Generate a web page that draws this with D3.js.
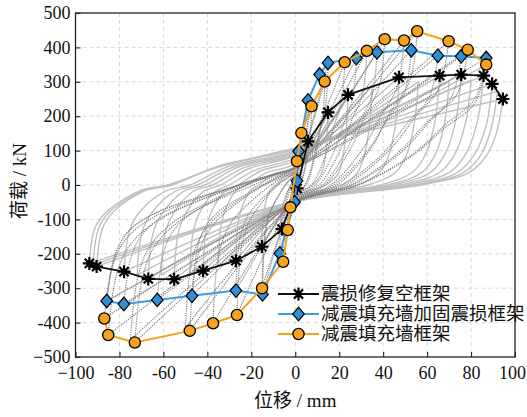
<!DOCTYPE html>
<html>
<head>
<meta charset="utf-8">
<script src="https://cdn.jsdelivr.net/npm/d3@7"></script>
<style>
  body { margin: 0; background: #fff; }
  svg { display: block; }
</style>
</head>
<body>
<svg id="chart" width="527" height="417"></svg>
<script>
// ---- axis ticks ----
const xTicks = [-100, -80, -60, -40, -20, 0, 20, 40, 60, 80, 100];
const xTickLabels = ["\u2212100", "-80", "-60", "\u221240", "-20", "0", "20", "40", "60", "80", "100"];
const yTicks = [500, 400, 300, 200, 100, 0, -100, -200, -300, -400, -500];
const yTickLabels = ["500", "400", "300", "200", "100", "0", "-100", "-200", "-300", "-400", "\u2212500"];
const xTitle = "位移 / mm";
const yTitle = "荷载 / kN";

// ---- skeleton curves [displacement mm, load kN] ----
const seriesNames = ["震损修复空框架", "减震填充墙加固震损框架", "减震填充墙框架"];
const repairedFrame = [[-93.7,-228],[-90.4,-237],[-77.9,-252],[-66.9,-273],[-55.1,-274],[-41.9,-249],[-27,-220],[-15.2,-179],[-6,-128],[0.8,-10],[5.8,127],[14.9,211],[24,262],[47.2,313],[65.7,318],[75.5,321],[85.7,318],[89.6,294],[94.5,250]];
const strengthenedFrame = [[-85.8,-337],[-78,-346],[-62.8,-334],[-47,-322],[-27,-307],[-14.9,-318],[-7,-199],[-0.3,-50],[0.8,12],[1.5,98],[5.8,246],[11.1,321],[14.9,355],[27.8,369],[37.2,386],[52.8,392],[64.9,376],[75.5,374],[86.9,369]];
const infilledFrame = [[-86.9,-388],[-85.1,-436],[-73,-458],[-48,-424],[-37.4,-402],[-26.5,-378],[-15.1,-300],[-5.5,-223],[-3.4,-131],[-2.2,-65],[0.8,69],[2.8,151],[7.4,229],[13.4,301],[22.5,357],[32.6,390],[40.7,424],[49.5,420],[55.5,447],[69.8,418],[78.5,393],[86.9,350]];

// ---- hysteresis loops: each loop = [branch from + peak to - peak, branch from - peak to + peak] ----
const loopsRepaired = [
  [[[5.8,127],[5.2,75],[4,35],[3,15],[2,0],[0,-25],[-6,-128]], [[-6,-128],[-5.3,-75],[-4.2,-35],[-3,-12],[-2,0],[0,25],[5.8,127]]],
  [[[14.9,211],[14.3,127],[13.3,65],[11.5,28],[8,0],[0,-30],[-15.2,-179]], [[-15.2,-179],[-14.6,-98],[-13.6,-55],[-11.5,-15],[-9,0],[-5,22],[0,40],[14.9,211]]],
  [[[24,262],[23.2,157],[21.6,80],[19.5,32],[14,0],[0,-35],[-27,-220]], [[-27,-220],[-26.2,-117],[-24.5,-70],[-20.5,-16],[-16.5,0],[-10,32],[0,55],[24,262]]],
  [[[35,290],[33.8,175],[31.5,88],[28,33],[21,0],[0,-38],[-35,-238]], [[-35,-238],[-34,-125],[-32,-75],[-27,-17],[-22,0],[-13,36],[0,62],[35,290]]],
  [[[47.2,313],[45.8,188],[43,95],[38.5,38],[28,0],[0,-40],[-41.9,-249]], [[-41.9,-249],[-40.6,-132],[-38.3,-80],[-32,-18],[-26,0],[-16,40],[0,72],[47.2,313]]],
  [[[56,300],[54.2,180],[50.8,90],[45.5,36],[33,0],[0,-42],[-48,-262]], [[-48,-262],[-46.5,-138],[-43.8,-84],[-36.5,-19],[-30,0],[-18,44],[0,78],[56,300]]],
  [[[65.7,318],[63.7,190],[59.8,96],[53.5,38],[39,0],[0,-44],[-55.1,-274]], [[-55.1,-274],[-53.4,-145],[-50.3,-88],[-42,-20],[-34,0],[-21,48],[0,85],[65.7,318]]],
  [[[70,300],[68,182],[64,92],[57.5,36],[42,0],[0,-45],[-61,-262]], [[-61,-262],[-59.2,-140],[-55.6,-84],[-46.5,-19],[-37.5,0],[-23.5,50],[0,88],[70,300]]],
  [[[75.5,321],[73.2,193],[68.7,97],[62,39],[45,0],[0,-46],[-66.9,-273]], [[-66.9,-273],[-64.9,-145],[-61,-87],[-51,-19],[-41,0],[-26,52],[0,92],[75.5,321]]],
  [[[80,305],[77.6,184],[72.8,92],[65.8,37],[48,0],[0,-47],[-72,-262]], [[-72,-262],[-69.8,-139],[-65.6,-83],[-54.5,-18],[-44.5,0],[-28,53],[0,95],[80,305]]],
  [[[85.7,318],[83.1,191],[78,95],[70.5,38],[51,0],[0,-48],[-77.9,-252]], [[-77.9,-252],[-75.5,-134],[-71,-80],[-59,-18],[-48,0],[-30,55],[0,98],[85.7,318]]],
  [[[89.6,294],[87,176],[81.5,88],[73.5,35],[54,0],[0,-48],[-90.4,-237]], [[-90.4,-237],[-87.7,-126],[-82.5,-76],[-68.5,-17],[-56,0],[-35,55],[0,103],[89.6,294]]],
  [[[92,272],[89.2,165],[84.3,86],[76.3,35],[55.5,0],[0,-48],[-92,-232]], [[-92,-232],[-89.4,-124],[-83.8,-74],[-69.3,-16],[-57,0],[-35.5,52],[0,105],[92,272]]],
  [[[94.5,250],[91.5,150],[87,85],[79,36],[57,0],[0,-48],[-93.7,-228]], [[-93.7,-228],[-91,-122],[-85,-73],[-70,-15],[-58,0],[-36,50],[0,108],[94.5,250]]]
];
const loopsInfilled = [
  [[[2.8,151],[2.6,100],[2.2,65],[1.7,35],[0.9,0],[0,-15],[-3.4,-131]], [[-3.4,-131],[-3.2,-85],[-2.7,-55],[-2,-30],[-1,0],[0,15],[2.8,151]]],
  [[[7.4,229],[7,156],[5.8,108],[4.6,57],[2.4,0],[0,-25],[-5.5,-223]], [[-5.5,-223],[-5.3,-140],[-4.9,-92],[-4,-52],[-1.8,0],[0,25],[7.4,229]]],
  [[[13.4,301],[12.6,205],[10.5,141],[8.3,75],[4.4,0],[0,-30],[-15.1,-300]], [[-15.1,-300],[-14.5,-186],[-13.4,-123],[-11,-70],[-4.5,0],[-2,18],[0,30],[13.4,301]]],
  [[[22.5,357],[21.1,243],[17.5,168],[14,89],[7.4,0],[0,-35],[-26.5,-378]], [[-26.5,-378],[-25.4,-234],[-23.6,-155],[-19.6,-90],[-8,0],[-3.5,22],[0,35],[22.5,357]]],
  [[[32.6,390],[30.6,265],[25.4,183],[20.2,98],[10.8,0],[0,-40],[-37.4,-402]], [[-37.4,-402],[-35.9,-249],[-33.3,-165],[-27.7,-96],[-11,0],[-5,25],[0,40],[32.6,390]]],
  [[[40.7,424],[38.3,288],[31.7,199],[25.2,106],[13.4,0],[0,-45],[-48,-424]], [[-48,-424],[-46,-263],[-42.7,-174],[-35.5,-102],[-14.4,0],[-6,28],[0,45],[40.7,424]]],
  [[[49.5,420],[46.5,286],[38.6,197],[30.7,105],[16.3,0],[0,-48],[-50,-415]], [[-50,-415],[-48,-257],[-44.5,-170],[-37,-100],[-15,0],[-6.5,28],[0,48],[49.5,420]]],
  [[[55.5,447],[52.2,304],[43,209],[35,112],[19,0],[0,-50],[-73,-458]], [[-73,-458],[-70,-285],[-65,-189],[-54,-111],[-22,0],[-9,30],[0,50],[55.5,447]]],
  [[[69.8,418],[65.6,284],[54.4,196],[43.3,105],[23,0],[0,-50],[-75,-450]], [[-75,-450],[-72,-279],[-66.8,-185],[-55.5,-108],[-22.5,0],[-9,30],[0,50],[69.8,418]]],
  [[[78.5,393],[73.8,267],[61.2,185],[48.7,98],[26,0],[0,-50],[-85.1,-436]], [[-85.1,-436],[-81.7,-270],[-75.7,-179],[-63,-105],[-25.5,0],[-10,30],[0,50],[78.5,393]]],
  [[[86.9,350],[81.7,238],[67.8,165],[53.9,88],[28.7,0],[0,-50],[-86.9,-388]], [[-86.9,-388],[-83.4,-241],[-77.3,-159],[-64.3,-93],[-26,0],[-10.5,30],[0,50],[86.9,350]]]
];
const loopsStrengthened = [
  [[[5.8,246],[5.5,167],[4.5,116],[3.6,62],[1.9,0],[0,-22],[-7,-199]], [[-7,-199],[-6.7,-123],[-6.2,-82],[-5.2,-48],[-2.1,0],[0,22],[5.8,246]]],
  [[[14.9,355],[14,241],[11.6,167],[9.2,89],[4.9,0],[0,-30],[-14.9,-318]], [[-14.9,-318],[-14.3,-197],[-13.3,-130],[-11,-76],[-4.5,0],[-2,18],[0,30],[14.9,355]]],
  [[[27.8,369],[26.1,251],[21.7,173],[17.2,92],[9.2,0],[0,-38],[-27,-307]], [[-27,-307],[-25.9,-190],[-24,-126],[-20,-74],[-8.1,0],[-3.5,20],[0,38],[27.8,369]]],
  [[[37.2,386],[35,262],[29,181],[23,97],[12.3,0],[0,-42],[-47,-322]], [[-47,-322],[-45,-200],[-41.8,-132],[-34.8,-77],[-14,0],[-6,24],[0,42],[37.2,386]]],
  [[[52.8,392],[49.6,267],[41.2,184],[32.7,98],[17.4,0],[0,-48],[-62.8,-334]], [[-62.8,-334],[-60.3,-207],[-55.9,-137],[-46.5,-80],[-19,0],[-8,28],[0,48],[52.8,392]]],
  [[[64.9,376],[61,256],[50.6,177],[40.2,94],[21.4,0],[0,-50],[-78,-346]], [[-78,-346],[-74.9,-215],[-69.4,-142],[-57.7,-83],[-23.4,0],[-9.5,30],[0,50],[64.9,376]]],
  [[[75.5,374],[71,254],[58.9,176],[46.8,94],[24.9,0],[0,-50],[-85.8,-337]], [[-85.8,-337],[-82.4,-209],[-76.4,-138],[-63.5,-81],[-25.7,0],[-10.5,30],[0,50],[75.5,374]]],
  [[[86.9,369],[81.7,251],[67.8,173],[53.9,92],[28.7,0],[0,-50],[-85.8,-337]], [[-85.8,-337],[-82,-205],[-76,-135],[-63,-80],[-25,0],[-10,30],[0,50],[86.9,369]]]
];

// ---- pick an installed Times-like face for the Latin text ----
function pickSerif() {
  const ctx = document.createElement("canvas").getContext("2d");
  const probe = "0123456789 kN mm -500";
  const widthWith = f => { ctx.font = `40px ${f}`; return ctx.measureText(probe).width; };
  const mono = widthWith("monospace"), sans = widthWith("sans-serif");
  const candidates = ["Liberation Serif", "Tinos", "Times New Roman", "Nimbus Roman", "FreeSerif", "DejaVu Serif", "Noto Serif"];
  for (const f of candidates) {
    if (widthWith(`"${f}", monospace`) !== mono || widthWith(`"${f}", sans-serif`) !== sans) return `"${f}"`;
  }
  return "serif";
}
const latinFace = pickSerif();
const fontFamily = `${latinFace}, "Noto Sans CJK SC", serif`;

// ---- layout ----
const W = 527, H = 417;
const margin = { top: 13, right: 12, bottom: 60, left: 75.5 };
const svg = d3.select("#chart");
const x = d3.scaleLinear().domain([-100, 100]).range([margin.left, W - margin.right]);
const y = d3.scaleLinear().domain([-500, 500]).range([H - margin.bottom, margin.top]);

svg.append("rect").attr("width", W).attr("height", H).attr("fill", "#fff");

// dashed grid
const grid = svg.append("g").attr("stroke", "#cfcfcf").attr("stroke-width", 0.8).attr("stroke-dasharray", "4,3");
grid.selectAll("line.gx").data(xTicks.slice(1, -1)).join("line")
  .attr("x1", d => x(d)).attr("x2", d => x(d)).attr("y1", y(500)).attr("y2", y(-500));
grid.selectAll("line.gy").data(yTicks.slice(1, -1)).join("line")
  .attr("y1", d => y(d)).attr("y2", d => y(d)).attr("x1", x(-100)).attr("x2", x(100));

// hysteresis loops
const branch = d3.line().x(d => x(d[0])).y(d => y(d[1])).curve(d3.curveCatmullRom.alpha(0.5));
const plot = svg.append("g");
function drawLoops(loops, stroke, width, dash) {
  plot.append("g").selectAll("path").data(loops.flat()).join("path")
    .attr("d", branch).attr("fill", "none").attr("stroke", stroke)
    .attr("stroke-width", width).attr("stroke-dasharray", dash);
}
drawLoops(loopsRepaired, "#c0c0c0", 1.4, null);
drawLoops(loopsStrengthened, "#8a8a8a", 1.2, "1.2,1.1");
drawLoops(loopsInfilled, "#7e7e7e", 1.2, "1.2,1.1");

// skeleton curves
const skel = d3.line().x(d => x(d[0])).y(d => y(d[1]));
const starPath = "M-6.5,0H6.5M0,-6.5V6.5M-4.6,-4.6L4.6,4.6M-4.6,4.6L4.6,-4.6";
const diamondPath = "M0,-6.8L5.8,0L0,6.8L-5.8,0Z";
const styles = [
  { data: repairedFrame, color: "#111", width: 1.8 },
  { data: strengthenedFrame, color: "#3f9be0", width: 2 },
  { data: infilledFrame, color: "#f5a21f", width: 2 }
];
function drawMarker(g, i) {
  if (i === 0) {
    g.append("path").attr("d", starPath).attr("stroke", "#000").attr("stroke-width", 2.2).attr("fill", "none");
  } else if (i === 1) {
    g.append("path").attr("d", diamondPath).attr("fill", "#2e8ed6").attr("stroke", "#000").attr("stroke-width", 1.2);
  } else {
    g.append("circle").attr("r", 5.6).attr("fill", "#f6a21e").attr("stroke", "#000").attr("stroke-width", 1.3);
  }
}
styles.forEach((s, i) => {
  const g = svg.append("g");
  g.append("path").datum(s.data).attr("d", skel).attr("fill", "none")
    .attr("stroke", s.color).attr("stroke-width", s.width);
  g.selectAll("g.m").data(s.data).join("g").attr("class", "m")
    .attr("transform", d => `translate(${x(d[0])},${y(d[1])})`)
    .each(function () { drawMarker(d3.select(this), i); });
});

// frame
svg.append("rect").attr("x", x(-100)).attr("y", y(500))
  .attr("width", x(100) - x(-100)).attr("height", y(-500) - y(500))
  .attr("fill", "none").attr("stroke", "#222").attr("stroke-width", 1.3);

// axes with inward ticks
const xAxis = d3.axisBottom(x).tickValues(xTicks).tickSize(-5).tickPadding(9)
  .tickFormat((d, i) => xTickLabels[i]);
const yAxis = d3.axisLeft(y).tickValues(yTicks).tickSize(-5).tickPadding(5)
  .tickFormat((d, i) => yTickLabels[i]);
const gx = svg.append("g").attr("transform", `translate(0,${y(-500)})`).call(xAxis);
const gy = svg.append("g").attr("transform", `translate(${x(-100)},0)`).call(yAxis);
[gx, gy].forEach(g => {
  g.attr("font-family", fontFamily).attr("font-size", 18);
  g.select(".domain").remove();
  g.selectAll(".tick line").attr("stroke", "#222").attr("stroke-width", 1.1);
  g.selectAll(".tick text").attr("fill", "#111");
});
// keep the last x label inside the canvas
gx.selectAll(".tick text").each(function () {
  const b = this.getBBox();
  const tx = this.parentNode.transform.baseVal.consolidate().matrix.e;
  const over = tx + b.x + b.width - (W - 1);
  if (over > 0) d3.select(this).attr("x", -over);
});

// axis titles
svg.append("text").attr("x", (x(-100) + x(100)) / 2).attr("y", 400)
  .attr("text-anchor", "middle").attr("dominant-baseline", "central")
  .attr("font-family", fontFamily).attr("font-size", 19).attr("fill", "#111").text(xTitle);
svg.append("text").attr("transform", `translate(19,181) rotate(-90)`)
  .attr("text-anchor", "middle").attr("dominant-baseline", "central")
  .attr("font-family", fontFamily).attr("font-size", 19).attr("fill", "#111").text(yTitle);

// legend
const legend = svg.append("g").attr("transform", "translate(278,294)");
styles.forEach((s, i) => {
  const row = legend.append("g").attr("transform", `translate(0,${i * 20})`);
  row.append("line").attr("x1", 0).attr("x2", 41).attr("stroke", s.color).attr("stroke-width", s.width);
  const m = row.append("g").attr("transform", "translate(20.5,0)");
  drawMarker(m, i);
  row.append("text").attr("x", 43).attr("dominant-baseline", "central")
    .attr("font-family", fontFamily).attr("font-size", 18.5).attr("fill", "#111").text(seriesNames[i]);
});
</script>
</body>
</html>
